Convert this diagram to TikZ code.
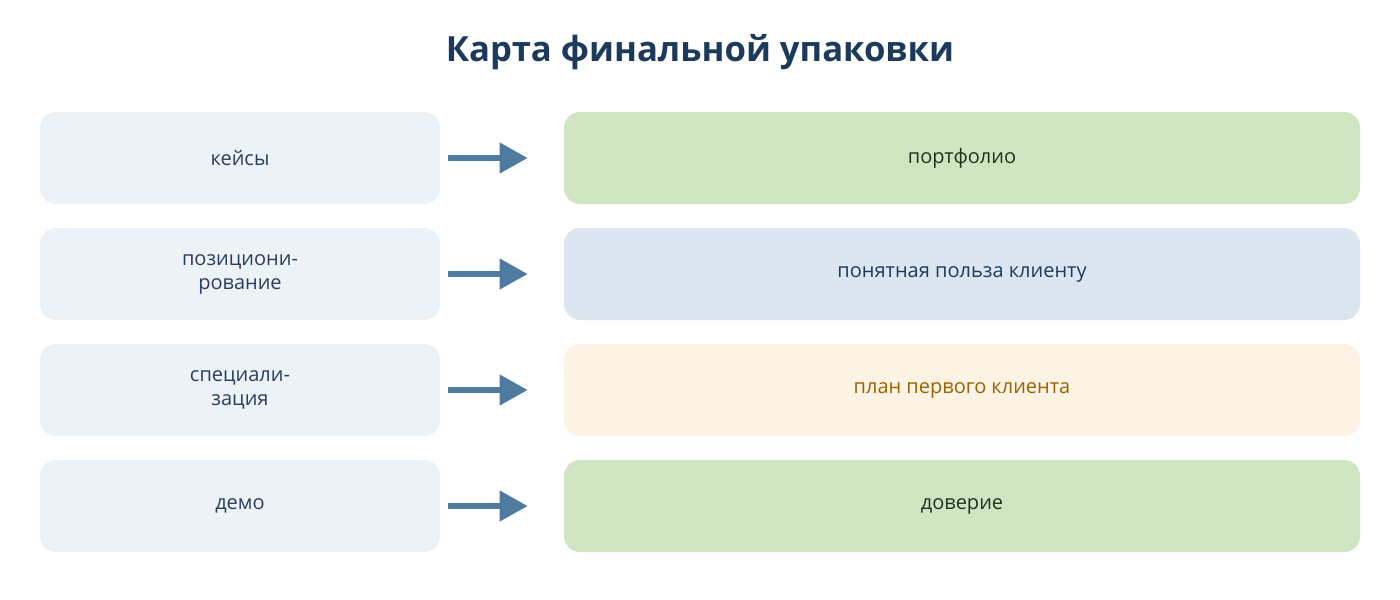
\documentclass[tikz,border=0pt]{standalone}
\usepackage{fontspec}
\setmainfont{Open Sans}
\usetikzlibrary{arrows.meta}
\definecolor{leftfill}{HTML}{EDF2F7}
\definecolor{inktext}{HTML}{2A3F5F}
\definecolor{greenfill}{HTML}{D0E6C3}
\definecolor{greentext}{HTML}{1F331F}
\definecolor{bluefill}{HTML}{DCE6F0}
\definecolor{bluetext}{HTML}{1F3A5F}
\definecolor{sandfill}{HTML}{FDF3E5}
\definecolor{sandtext}{HTML}{9A6200}
\definecolor{titleink}{HTML}{1B3A5C}
\definecolor{arrowink}{HTML}{4F7BA1}
\tikzset{
  box/.style={rounded corners=12pt, inner sep=0pt, font=\fontsize{15}{18}\selectfont, align=center},
  src/.style={box, fill=leftfill, text=inktext, minimum width=300pt, minimum height=69pt},
  dst/.style={box, minimum width=597pt, minimum height=69pt},
  flow/.style={-{Triangle[length=21pt,width=22pt]}, line width=4.5pt, draw=arrowink}
}
\begin{document}
\begin{tikzpicture}[x=0.75pt,y=-0.75pt]
        \useasboundingbox[fill=white] (0,0) rectangle (1400,600);

        % Title
        \node[font=\fontsize{26}{30}\selectfont\bfseries, text=titleink] (title) at (700,52) {Карта финальной упаковки};

        % Left column
        \node[src] (cases) at (240,158) {кейсы};
        \node[src] (position) at (240,274) {позициони-\\рование};
        \node[src] (special) at (240,390) {специали-\\зация};
        \node[src] (demo) at (240,506) {демо};

        % Right column
        \node[dst, fill=greenfill, text=greentext] (portfolio) at (962,158) {портфолио};
        \node[dst, fill=bluefill, text=bluetext] (benefit) at (962,274) {понятная польза клиенту};
        \node[dst, fill=sandfill, text=sandtext] (client) at (962,390) {план первого клиента};
        \node[dst, fill=greenfill, text=greentext] (trust) at (962,506) {доверие};

        % Arrows
        \foreach \a/\b in {cases/portfolio, position/benefit, special/client, demo/trust}
          \draw[flow] ([xshift=6pt]\a.east) -- ([xshift=-27pt]\b.west);
\end{tikzpicture}
\end{document}
